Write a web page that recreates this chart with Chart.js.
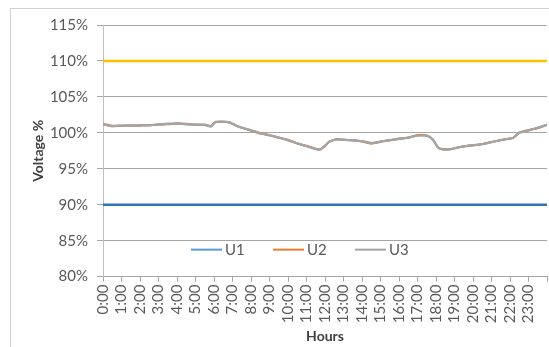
<!DOCTYPE html>
<html>
<head>
<meta charset="utf-8">
<script src="https://cdn.jsdelivr.net/npm/chart.js@4.4.1/dist/chart.umd.min.js"></script>
<style>
  html, body { margin: 0; padding: 0; background: #fff; }
  #wrap { position: relative; width: 549px; height: 347px; }
</style>
</head>
<body>
<div id="wrap"><canvas id="voltageChart" width="549" height="347"></canvas></div>
<script>
// measurement times (h:mm)
const times = [
  "0:00", "0:30", "1:00", "1:30", "2:00", "2:30", "3:00", "3:30", "4:00", "4:30",
  "5:00", "5:30", "5:50", "6:05", "6:30", "6:50", "7:10", "7:30", "8:00", "8:30",
  "9:00", "9:30", "10:00", "10:30", "11:00", "11:30", "11:45", "12:00", "12:15", "12:40",
  "13:00", "13:30", "14:00", "14:30", "15:00", "15:30", "16:00", "16:30", "17:00", "17:30",
  "17:50", "18:05", "18:15", "18:45", "19:15", "19:45", "20:15", "20:45", "21:15", "21:45",
  "22:10", "22:30", "23:00", "23:30", "24:00"
];

const u1 = [
  101.2, 100.95, 101.0, 101.0, 101.05, 101.05, 101.15, 101.25, 101.3, 101.2,
  101.15, 101.1, 100.9, 101.5, 101.55, 101.45, 101.05, 100.7, 100.35, 99.95,
  99.65, 99.35, 99.0, 98.55, 98.15, 97.75, 97.7, 98.2, 98.8, 99.1,
  99.05, 98.95, 98.85, 98.55, 98.75, 99.0, 99.15, 99.35, 99.65, 99.6,
  99.05, 98.05, 97.75, 97.7, 98.0, 98.2, 98.35, 98.55, 98.85, 99.1,
  99.3, 100.0, 100.35, 100.7, 101.1
];
const u2 = [
  101.25, 101.0, 101.0, 101.05, 101.0, 101.1, 101.15, 101.2, 101.3, 101.25,
  101.1, 101.15, 100.95, 101.5, 101.5, 101.5, 101.0, 100.75, 100.3, 99.9,
  99.7, 99.3, 99.05, 98.5, 98.2, 97.8, 97.7, 98.25, 98.8, 99.1,
  99.0, 99.0, 98.8, 98.5, 98.8, 98.95, 99.2, 99.3, 99.7, 99.65,
  99.1, 98.05, 97.8, 97.75, 98.0, 98.25, 98.3, 98.6, 98.85, 99.15,
  99.3, 100.05, 100.4, 100.65, 101.15
];
const u3 = [
  101.2, 100.9, 101.0, 101.0, 101.05, 101.05, 101.2, 101.25, 101.3, 101.2,
  101.15, 101.1, 100.9, 101.55, 101.55, 101.45, 101.05, 100.7, 100.35, 99.95,
  99.65, 99.35, 98.95, 98.55, 98.15, 97.75, 97.7, 98.15, 98.8, 99.1,
  99.05, 98.95, 98.85, 98.6, 98.75, 99.0, 99.15, 99.35, 99.6, 99.6,
  99.05, 98.05, 97.75, 97.7, 98.0, 98.2, 98.35, 98.55, 98.85, 99.1,
  99.3, 100.0, 100.35, 100.7, 101.1
];

// limit lines
const upperLimit = 110;
const lowerLimit = 90;
const limitSpan = [0, 24];

const hourLabels = [
  "0:00", "1:00", "2:00", "3:00", "4:00", "5:00", "6:00", "7:00", "8:00", "9:00", "10:00", "11:00",
  "12:00", "13:00", "14:00", "15:00", "16:00", "17:00", "18:00", "19:00", "20:00", "21:00", "22:00", "23:00"
];

const FONT = "Lato, 'Open Sans', sans-serif";
const TEXT = '#595959';
const GRID = '#a6a6a6';

function toHours(t) {
    const [h, m] = t.split(':');
    return Number(h) + Number(m) / 60;
}

function series(values) {
    return times.map((t, i) => ({ x: toHours(t), y: values[i] }));
}

function limit(value) {
    return limitSpan.map(x => ({ x: x, y: value }));
}

// legend drawn inside the plot area, like the Excel one
const innerLegend = {
    id: 'innerLegend',
    afterDatasetsDraw(chart) {
        const ctx = chart.ctx;
        const area = chart.chartArea;
        const y = area.bottom - 27;
        let x = area.left + 88;
        ctx.save();
        ctx.font = '15px ' + FONT;
        ctx.textBaseline = 'middle';
        chart.data.datasets.forEach(ds => {
            if (!ds.inLegend) return;
            ctx.strokeStyle = ds.borderColor;
            ctx.lineWidth = 2;
            ctx.beginPath();
            ctx.moveTo(x, y);
            ctx.lineTo(x + 31, y);
            ctx.stroke();
            ctx.fillStyle = TEXT;
            ctx.fillText(ds.label, x + 34, y + 1);
            x += 82;
        });
        ctx.restore();
    }
};

// outer frame of the chart object (cut off at right and bottom)
const frame = {
    id: 'frame',
    beforeDraw(chart) {
        const ctx = chart.ctx;
        ctx.save();
        ctx.strokeStyle = '#d0d0d0';
        ctx.lineWidth = 1;
        ctx.strokeRect(10.5, 8.5, 700, 500);
        ctx.restore();
    }
};

const ctx = document.getElementById('voltageChart').getContext('2d');
new Chart(ctx, {
    type: 'line',
    data: {
        datasets: [
            { label: 'U1', data: series(u1), borderColor: '#5b9bd5', borderWidth: 2, order: 2, inLegend: true },
            { label: 'U2', data: series(u2), borderColor: '#ed7d31', borderWidth: 2, order: 1, inLegend: true },
            { label: 'U3', data: series(u3), borderColor: '#a5a5a5', borderWidth: 2.2, order: 0, inLegend: true },
            { label: 'Max', data: limit(upperLimit), borderColor: '#ffc000', borderWidth: 2.5, order: 3 },
            { label: 'Min', data: limit(lowerLimit), borderColor: '#2e75b6', borderWidth: 2.5, order: 3 }
        ].map(ds => Object.assign({ pointRadius: 0, tension: 0.2, fill: false }, ds))
    },
    options: {
        responsive: false,
        animation: false,
        layout: { padding: { left: 26, right: 2, top: 25, bottom: 0 } },
        plugins: {
            legend: { display: false },
            tooltip: { enabled: false }
        },
        scales: {
            x: {
                type: 'linear',
                min: 0,
                max: 24,
                afterFit: s => { s.paddingRight = 0; },
                grid: { drawOnChartArea: false, tickLength: 5, color: GRID },
                border: { color: GRID },
                ticks: {
                    stepSize: 1,
                    autoSkip: false,
                    minRotation: 90,
                    maxRotation: 90,
                    padding: 3,
                    color: TEXT,
                    font: { family: FONT, size: 15 },
                    callback: v => hourLabels[v] ?? ''
                },
                title: {
                    display: true,
                    text: 'Hours',
                    color: '#404040',
                    font: { family: FONT, size: 14, weight: 'bold' },
                    padding: { top: 2, bottom: 2 }
                }
            },
            y: {
                min: 80,
                max: 115,
                afterFit: s => { s.width = 77; },
                grid: { color: GRID, tickLength: 6 },
                border: { color: '#c0c0c0' },
                ticks: {
                    stepSize: 5,
                    padding: 9,
                    color: TEXT,
                    font: { family: FONT, size: 15 },
                    callback: v => v + '%'
                },
                title: {
                    display: true,
                    text: 'Voltage %',
                    color: '#404040',
                    font: { family: FONT, size: 14, weight: 'bold' },
                    padding: { top: 4, bottom: 4 }
                }
            }
        }
    },
    plugins: [frame, innerLegend]
});
</script>
</body>
</html>
